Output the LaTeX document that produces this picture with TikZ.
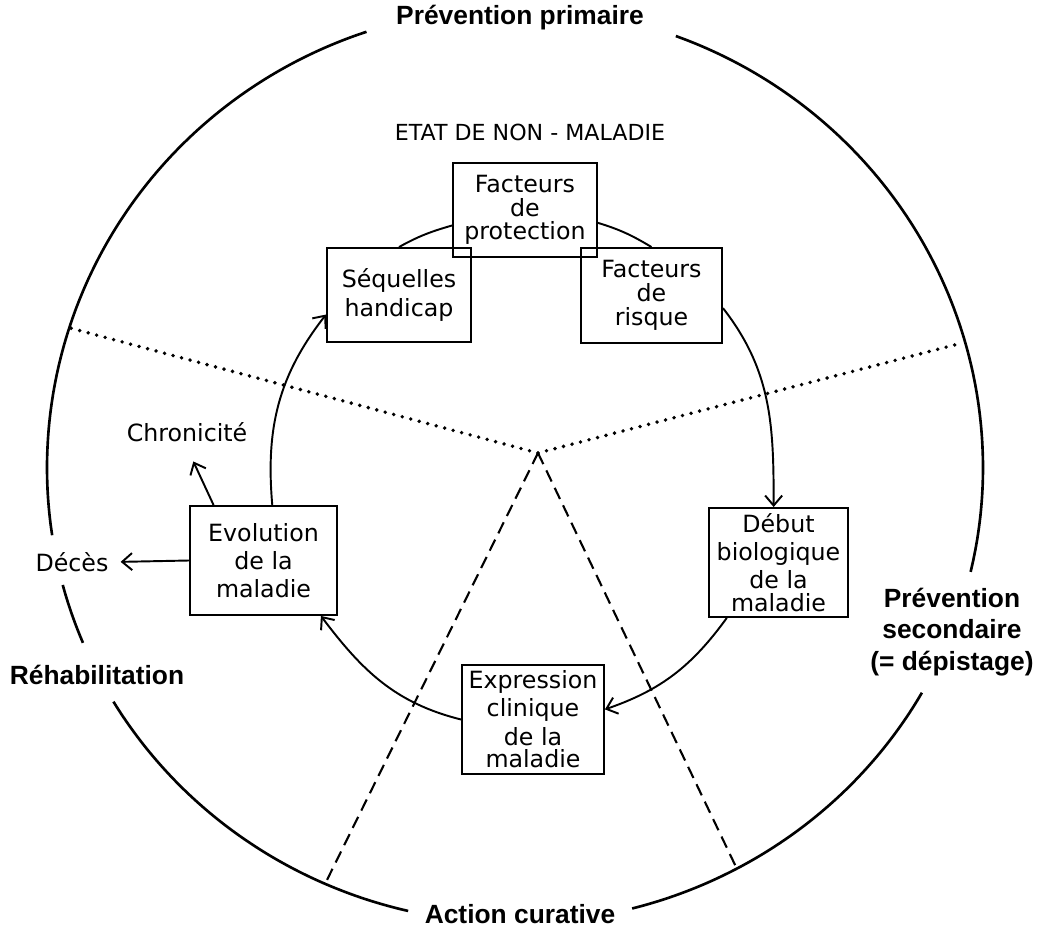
\documentclass[tikz,border=0pt]{standalone}
\usepackage{fontspec}
\setmainfont{DejaVu Sans}
\newfontfamily\zonefont{Liberation Sans}
\usetikzlibrary{arrows.meta}

\begin{document}
\begin{tikzpicture}[
  x=0.02cm, y=-0.02cm,
  declare function={rimx(\t)=515+468*cos(\t); rimy(\t)=468-(sin(\t)>0 ? 460 : 455)*sin(\t);},
  box/.style={rectangle, draw, line width=1.1pt, inner sep=0pt, align=center, font=\fontsize{13.5}{13.5}\selectfont},
  stage/.style={box, font=\fontsize{13.5}{16}\selectfont},
  zone/.style={align=center, font=\zonefont\bfseries\fontsize{15}{18}\selectfont},
  note/.style={font=\fontsize{13.5}{15}\selectfont},
  arrow/.style={-{Straight Barb[length=2mm, width=3.4mm]}, line width=1.1pt},
  link/.style={line width=1.1pt},
  rim/.style={line width=1.5pt, smooth},
  dotline/.style={line width=2.2pt, line cap=round, dash pattern=on 0pt off 5pt},
  dashline/.style={line width=1.2pt, dash pattern=on 7pt off 4pt},
]
\useasboundingbox (0,0) rectangle (1049,932);

% === Outer ring and its zones ===
\node[zone] (prim)  at (520,18)  {Prévention primaire};
\node[zone] (sec)   at (952,632) {Prévention\\secondaire\\(= dépistage)};
\node[zone] (cur)   at (520,914) {Action curative};
\node[zone] (rehab) at (97,675)  {Réhabilitation};

\draw[rim] plot[domain=108.5:188.5, samples=60, variable=\t] ({rimx(\t)},{rimy(\t)});
\draw[rim] plot[domain=194.9:202.6, samples=8, variable=\t]  ({rimx(\t)},{rimy(\t)});
\draw[rim] plot[domain=210.9:256.8, samples=40, variable=\t] ({rimx(\t)},{rimy(\t)});
\draw[rim] plot[domain=284.5:330.4, samples=40, variable=\t] ({rimx(\t)},{rimy(\t)});
\draw[rim] plot[domain=-13.2:69.9, samples=60, variable=\t]  ({rimx(\t)},{rimy(\t)});

% === Sector borders ===
\coordinate (hub) at (538,453);
\coordinate (nw)  at (70,328);
\coordinate (ne)  at (962,343);
\coordinate (sw)  at (325,884);
\coordinate (se)  at (737,869);

\draw[dotline]  (hub) -- (nw);
\draw[dotline]  (hub) -- (ne);
\draw[dashline] (hub) -- (sw);
\draw[dashline] (hub) -- (se);

% === Cycle of the disease ===
\node[note, font=\fontsize{12.6}{15}\selectfont] (etat) at (530,132) {ETAT DE NON - MALADIE};

\node[box, minimum width=2.88cm, minimum height=1.88cm] (prot)   at (525,210)     {Facteurs\\de\\protection};
\node[box, minimum width=2.88cm, minimum height=1.88cm] (seq)    at (399,295)     {Séquelles\\[3.5pt]handicap};
\node[box, minimum width=2.82cm, minimum height=1.9cm]  (risque) at (651.5,295.5) {Facteurs\\de\\risque};
\node[stage, minimum width=2.78cm, minimum height=2.18cm] (debut) at (778.5,562.5) {Début\\biologique\\de la\\[-3pt]maladie};
\node[stage, minimum width=2.84cm, minimum height=2.18cm] (expr)  at (533,719.5)   {Expression\\clinique\\de la\\[-3pt]maladie};
\node[stage, minimum width=2.94cm, minimum height=2.18cm] (evol)  at (263.5,560.5) {Evolution\\de la\\maladie};

\draw[link]  (seq.north)  to[out=29, in=196]  (prot.192);
\draw[link]  (prot.-10)   to[out=-17, in=149] (risque.north);
\draw[arrow] (risque.-10) to[out=-52, in=90]  (debut.95);
\draw[arrow] (debut.227)  to[out=-126, in=19] (expr.8);
\draw[arrow] (expr.west)  to[out=166, in=-53] (evol.-44);
\draw[arrow] (evol.81)    to[out=95, in=232]  (seq.195);

% === Outcomes ===
\node[note] (chron) at (187,432) {Chronicité};
\node[note] (deces) at (72,562)  {Décès};

\draw[arrow, shorten >=0.3cm]  (evol.132)  -- (chron.south);
\draw[arrow, shorten >=0.12cm] (evol.west) -- (deces.east);

\end{tikzpicture}
\end{document}
